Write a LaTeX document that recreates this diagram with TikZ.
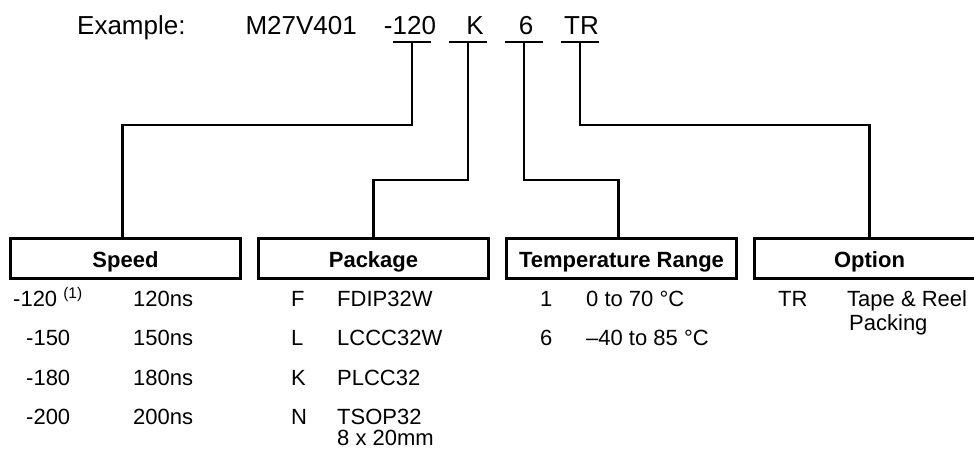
\documentclass[tikz,border=0pt]{standalone}
\usepackage{fontspec}
\setmainfont{Liberation Sans}
\usetikzlibrary{positioning,calc}
\tikzset{
	wire/.style={line width=2.6pt},
	code/.style={anchor=base west, inner sep=0pt, font=\fontsize{26}{28}\selectfont},
	entry/.style={anchor=base west, inner sep=0pt, font=\fontsize{22}{24}\selectfont},
	field/.style={rectangle, draw, line width=2.6pt, outer sep=0pt, inner sep=0pt, minimum width=230pt, minimum height=40pt, text height=17pt, text depth=0pt, font=\bfseries\fontsize{22}{24}\selectfont},
}

\begin{document}
\begin{tikzpicture}[x=1pt,y=-1pt,node distance=18pt]
		\useasboundingbox (0,0) rectangle (974,449);
		% part number
		\node (ex) [code] at (77,35) {Example:};
		\node (part) [code,base right=59.6pt of ex] {M27V401};
		\node (c120) [code,base right=26.7pt of part] {-120};
		\node (cK) [code,base right=30pt of c120] {K};
		\node (c6) [code,base right=34.7pt of cK] {6};
		\node (cTR) [code,base right=30.5pt of c6] {TR};
		\foreach \name/\x in {u120/412,uK/468,u6/524,uTR/580} {
			\coordinate (\name) at (\x,42);
			\draw [wire] ([xshift=-19pt]\name) -- ([xshift=19pt]\name);
		}
		% fields
		\node (speed) [field] at (125.5,258.5) {Speed};
		\node (package) [field,right=of speed] {Package};
		\node (temp) [field,right=of package] {Temperature Range};
		\node (option) [field,right=of temp] {Option};
		\draw [wire] (u120) -- ++(0,83) -| ([xshift=-3pt]speed.north);
		\draw [wire] (uK) -- ++(0,138) -| (package.north);
		\draw [wire] (u6) -- ++(0,138) -| ([xshift=-3pt]temp.north);
		\draw [wire] (uTR) -- ++(0,83) -| (option.north);
		% speed
		\node (sv1) [entry] at (13,306) {-120 \textsuperscript{(1)}};
		\node (st1) [entry] at (133,306) {120ns};
		\foreach \v/\y [count=\i from 2] in {150/345,180/385,200/424} {
			\node (sv\i) [entry] at (26,\y) {-\v};
			\node (st\i) [entry] at (133,\y) {\v ns};
		}
		% package
		\foreach \k/\p/\y [count=\i] in {F/FDIP32W/306,L/LCCC32W/345,K/PLCC32/385,N/TSOP32/424} {
			\node (pk\i) [entry] at (291,\y) {\k};
			\node (pn\i) [entry] at (337,\y) {\p};
		}
		\node (pn5) [entry] at (337,445.5) {8 x 20mm};
		% temperature
		\node (tk1) [entry] at (540,306) {1};
		\node (tr1) [entry] at (586,306) {0 to 70 °C};
		\node (tk2) [entry] at (540,345) {6};
		\node (tr2) [entry] at (586,345) {–40 to 85 °C};
		% option
		\node (ok1) [entry] at (778,306) {TR};
		\node (on1) [entry] at (847,306) {Tape \& Reel};
		\node (on2) [entry] at (849,330) {Packing};
	\end{tikzpicture}
\end{document}
